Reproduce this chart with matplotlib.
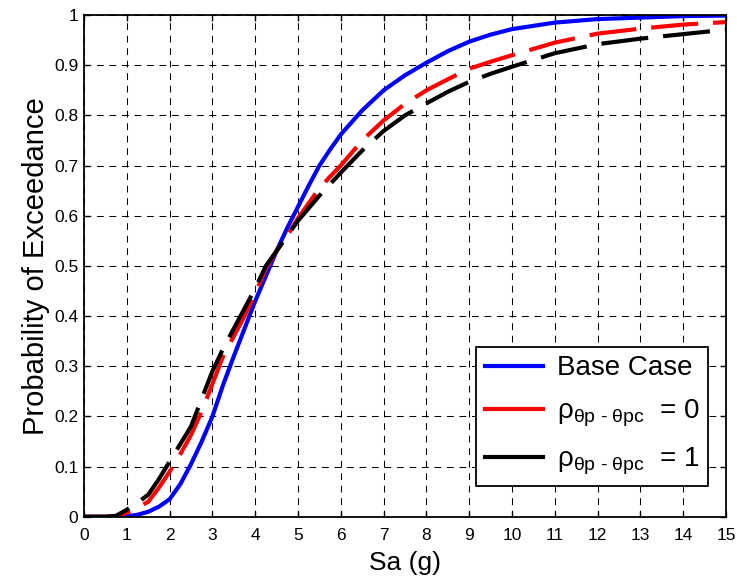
import matplotlib
matplotlib.use("Agg")
import matplotlib.pyplot as plt
from matplotlib.lines import Line2D
import numpy as np

plt.rcParams['font.family'] = ['Liberation Sans', 'DejaVu Sans']
plt.rcParams['mathtext.fontset'] = 'custom'
plt.rcParams['mathtext.rm'] = 'Liberation Sans'
plt.rcParams['mathtext.it'] = 'Liberation Sans:italic'

# Sa (g) sample points and exceedance probabilities
sa = [0, 0.5, 0.75, 1, 1.25, 1.5, 1.75, 2, 2.25, 2.5, 2.75, 3, 3.25, 3.5, 3.75,
      4, 4.25, 4.5, 4.75, 5, 5.25, 5.5, 5.75, 6, 6.5, 7, 7.5, 8, 8.5, 9, 9.5, 10,
      11, 12, 13, 14, 15]
base_case = [0, 0, 0, 0.001, 0.004, 0.01, 0.02, 0.035, 0.065, 0.105, 0.15,
             0.2, 0.263, 0.32, 0.375, 0.43, 0.48, 0.53, 0.576, 0.618, 0.66,
             0.70, 0.732, 0.762, 0.81, 0.85, 0.88, 0.905, 0.928, 0.947, 0.961, 0.972,
             0.985, 0.992, 0.995, 0.998, 0.999]
rho_0 = [0, 0, 0.001, 0.008, 0.018, 0.03, 0.058, 0.09, 0.125, 0.163, 0.21,
         0.265, 0.32, 0.36, 0.40, 0.445, 0.495, 0.53, 0.56, 0.595, 0.625,
         0.655, 0.678, 0.70, 0.75, 0.79, 0.823, 0.85, 0.872, 0.893, 0.907, 0.92,
         0.945, 0.963, 0.973, 0.981, 0.986]
rho_1 = [0, 0, 0.002, 0.014, 0.028, 0.044, 0.075, 0.11, 0.145, 0.18, 0.235,
         0.29, 0.335, 0.375, 0.415, 0.455, 0.50, 0.53, 0.56, 0.59, 0.615,
         0.64, 0.663, 0.686, 0.73, 0.769, 0.80, 0.824, 0.847, 0.867, 0.883, 0.897,
         0.924, 0.942, 0.953, 0.962, 0.971]

labels = ['Base Case',
          'ρ$_{\\mathrm{θp\\ \u2010\\ θpc}}$  = 0',
          'ρ$_{\\mathrm{θp\\ \u2010\\ θpc}}$  = 1']

fig = plt.figure(figsize=(7.37, 5.8), dpi=100)
ax = fig.add_axes([0.114, 0.109, 0.871, 0.865])

lw = 3.0
dash = (11.3, 3.6)
ax.plot(sa, base_case, color='#0000ff', lw=lw, solid_joinstyle='round')
ax.plot(sa, rho_0, color='#ff0000', lw=lw, dashes=dash, dash_joinstyle='round')
ax.plot(sa, rho_1, color='black', lw=lw, dashes=dash, dash_joinstyle='round')

ax.set_xlim(0, 15)
ax.set_ylim(0, 1)
ax.set_xticks(np.arange(0, 16, 1))
ax.set_yticks(np.arange(0, 1.01, 0.1))
ax.set_yticklabels(['0', '0.1', '0.2', '0.3', '0.4', '0.5', '0.6', '0.7', '0.8', '0.9', '1'])
ax.tick_params(direction='in', top=True, right=True, length=4, width=1, labelsize=12.5)
ax.tick_params(axis='x', pad=8)
ax.tick_params(axis='y', pad=4)
ax.grid(True, color='black', lw=0.75, linestyle=(0, (6.5, 5.5)))
for s in ax.spines.values():
    s.set_linewidth(1.3)

ax.set_xlabel('Sa (g)', fontsize=19, labelpad=6)
ax.set_ylabel('Probability of Exceedance', fontsize=21, labelpad=3)

# solid proxy handles, as in the original legend
handles = [Line2D([], [], color='#0000ff', lw=lw),
           Line2D([], [], color='#ff0000', lw=lw),
           Line2D([], [], color='black', lw=lw)]
leg = ax.legend(handles, labels, loc='lower right', bbox_to_anchor=(0.972, 0.062),
                borderaxespad=0, fontsize=20, handlelength=2.1, handletextpad=0.5,
                borderpad=0.3, labelspacing=0.6, fancybox=False, framealpha=1)
leg.get_frame().set_edgecolor('black')
leg.get_frame().set_linewidth(1.3)

fig.savefig('out.png', dpi=100)
